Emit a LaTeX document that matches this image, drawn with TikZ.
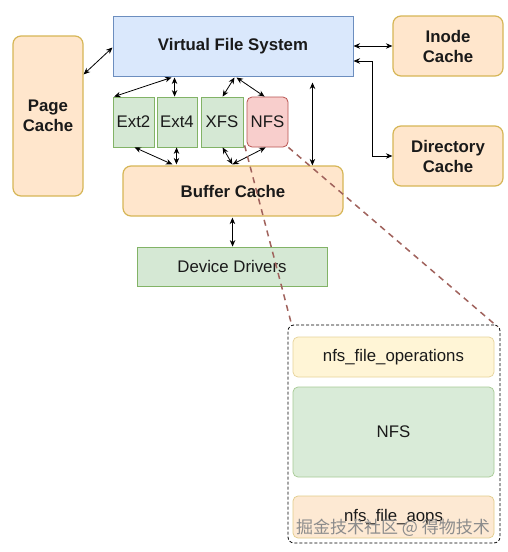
\documentclass[tikz,border=0pt]{standalone}
\usepackage{fontspec}
\setmainfont{Liberation Sans}
\newfontfamily\cjk{Noto Sans CJK SC}
\usetikzlibrary{arrows.meta,calc}
\definecolor{bluefill}{HTML}{DAE8FC}
\definecolor{bluedraw}{HTML}{6C8EBF}
\definecolor{greenfill}{HTML}{D5E8D4}
\definecolor{greendraw}{HTML}{82B366}
\definecolor{redfill}{HTML}{F8CECC}
\definecolor{reddraw}{HTML}{B85450}
\definecolor{orangefill}{HTML}{FFE6CC}
\definecolor{yellowdraw}{HTML}{D6B656}
\definecolor{yellowfill}{HTML}{FFF2CC}
\definecolor{lightorange}{HTML}{FDE9D3}
\definecolor{lightyellow}{HTML}{FFF5D6}
\definecolor{lightgreen}{HTML}{D9EBD8}
\definecolor{dashred}{HTML}{A0625C}
\definecolor{txt}{HTML}{1A1A1A}
\definecolor{wmgray}{HTML}{8C8C8C}
\begin{document}
\begin{tikzpicture}[x=1pt,y=-1pt,
  every node/.style={font=\fontsize{16.8}{20}\selectfont, text=txt, inner sep=0pt, align=center},
  bluebox/.style={draw=bluedraw, fill=bluefill, line width=1pt},
  greenbox/.style={draw=greendraw, fill=greenfill, line width=0.8pt},
  redbox/.style={draw=reddraw, fill=redfill, line width=0.8pt, rounded corners=5pt},
  orangebox/.style={draw=yellowdraw, fill=orangefill, line width=1.2pt, rounded corners=8pt},
  innerbox/.style={line width=0.7pt, rounded corners=5pt},
  arr/.style={line width=0.8pt, {Stealth[length=6.5pt,width=5.5pt]}-{Stealth[length=6.5pt,width=5.5pt]}},
  zoomline/.style={draw=dashred, line width=1.5pt, dash pattern=on 6pt off 5pt},
  groupbox/.style={draw=black, line width=0.8pt, dash pattern=on 3pt off 2pt, rounded corners=6pt},
]
\useasboundingbox (0,0) rectangle (507,552);
\fill[white] (0,0) rectangle (507,552);

% main boxes
\node[bluebox, minimum width=240pt, minimum height=60pt, font=\fontsize{16.8}{20}\selectfont\bfseries] (vfs) at (233,46) {Virtual File System};
\node[orangebox, minimum width=70pt, minimum height=160pt, font=\fontsize{16.8}{20}\selectfont\bfseries] (page) at (48,116) {Page\\Cache};
\node[orangebox, minimum width=110pt, minimum height=60pt, font=\fontsize{16.8}{20}\selectfont\bfseries] (inode) at (448,46) {Inode\\Cache};
\node[orangebox, minimum width=110pt, minimum height=60pt, font=\fontsize{16.8}{20}\selectfont\bfseries] (dir) at (448,156) {Directory\\Cache};
\node[greenbox, minimum width=41pt, minimum height=50pt] (ext2) at (133.5,122) {Ext2};
\node[greenbox, minimum width=40pt, minimum height=50pt] (ext4) at (177,122) {Ext4};
\node[greenbox, minimum width=42pt, minimum height=50pt] (xfs) at (222,122) {XFS};
\node[redbox, minimum width=41pt, minimum height=50pt] (nfs) at (267.5,122) {NFS};
\node[orangebox, minimum width=220pt, minimum height=50pt, font=\fontsize{16.8}{20}\selectfont\bfseries] (buf) at (233,191) {Buffer Cache};
\node[greenbox, minimum width=190pt, minimum height=39pt] (dev) at (232,266.5) {Device Drivers};

% NFS detail group
\node[groupbox, minimum width=212pt, minimum height=218pt] (grp) at (394,434) {};
\node[innerbox, draw=yellowdraw!60, fill=lightyellow, minimum width=201pt, minimum height=40pt] (ops) at (393.5,357) {nfs\_file\_operations};
\node[innerbox, draw=greendraw!70, fill=lightgreen, minimum width=201pt, minimum height=90pt] (nfsbig) at (393.5,432) {NFS};
\node[innerbox, draw=yellowdraw!70, fill=lightorange, minimum width=201pt, minimum height=42pt] (aops) at (393.5,517) {nfs\_file\_aops};

% connectors
\draw[arr] ($(page.north east)+(0,39)$) -- ($(vfs.north west)+(0,32)$);
\draw[arr] (vfs.east) -- (inode.west);
\draw[arr] ($(vfs.east)+(0,15)$) -| ($(dir.west)+(-20,0)$) -- (dir.west);
\draw[arr, shorten <=6pt] ($(vfs.south west)+(200,0)$) -- ($(buf.north west)+(190,0)$);

\draw[arr] ($(vfs.south west)+(59,1)$) -- ($(ext2.north west)+(1.5,0)$);
\draw[arr] ($(vfs.south west)+(62,1)$) -- ($(ext4.north west)+(18,0)$);
\draw[arr] ($(vfs.south west)+(122,1)$) -- ($(xfs.north west)+(22,0)$);
\draw[arr] ($(vfs.south west)+(124,1)$) -- ($(nfs.north west)+(18,0)$);

\draw[arr] ($(ext2.south west)+(22,0)$) -- ($(buf.north west)+(50,-1)$);
\draw[arr] ($(ext4.south west)+(20,0)$) -- ($(buf.north west)+(54,-1)$);
\draw[arr] ($(xfs.south west)+(22,0)$) -- ($(buf.north west)+(110,-1)$);
\draw[arr] ($(nfs.south west)+(19,0)$) -- ($(buf.north west)+(110,-1)$);

\draw[arr] ($(buf.south west)+(110,1)$) -- ($(dev.north west)+(96,0)$);

% zoom lines
\draw[zoomline] ($(nfs.south west)+(-2,-2)$) -- ($(grp.north west)+(4,0)$);
\draw[zoomline] (nfs.south east) -- ($(grp.north east)+(-3,2)$);

% watermark
\node[text=wmgray, font=\cjk\fontsize{17}{20}\selectfont] (wm) at (393,528) {掘金技术社区 @ 得物技术};
\end{tikzpicture}
\end{document}
